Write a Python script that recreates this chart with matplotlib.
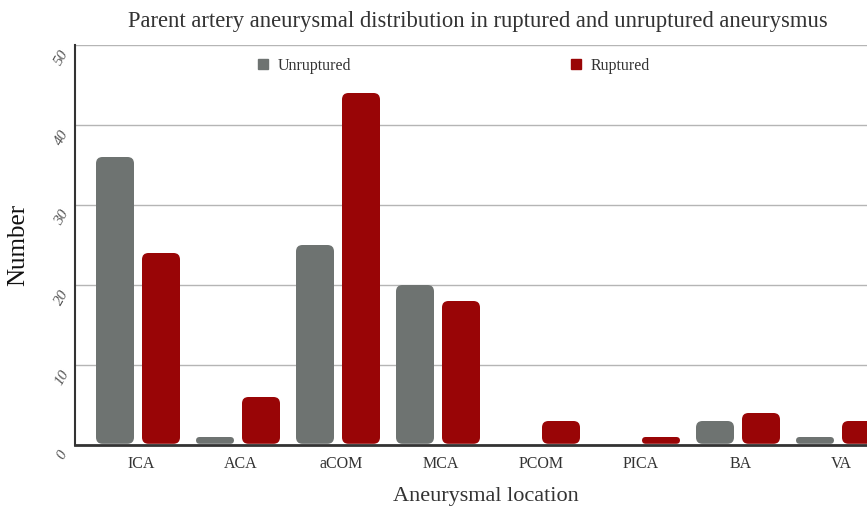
import matplotlib
matplotlib.use("Agg")
import matplotlib.pyplot as plt
from matplotlib.patches import FancyBboxPatch
from matplotlib.lines import Line2D
from matplotlib.transforms import ScaledTranslation
import numpy as np

categories = ["ICA", "ACA", "aCOM", "MCA", "PCOM", "PICA", "BA", "VA"]
unruptured = [36, 1, 25, 20, 0, 0, 3, 1]
ruptured = [24, 6, 44, 18, 3, 1, 4, 3]
yticks = [0, 10, 20, 30, 40, 50]

grey = "#6e7371"
red = "#990506"

plt.rcParams['font.family'] = ['Liberation Serif', 'DejaVu Serif']

fig = plt.figure(figsize=(8.67, 5.08), dpi=100)
ax = fig.add_axes([75/867, 1-445/508, 1-75/867, 400/508])

x = np.arange(len(categories))
w = 0.38
off = 0.23
b1 = ax.bar(x - off, unruptured, w, color=grey)
b2 = ax.bar(x + off, ruptured, w, color=red)

ax.set_xlim(-0.63, 7.29)
ax.set_ylim(0, 50)

# replace rectangles with rounded boxes
xpx = 792 / (7.29 + 0.63)  # px per x unit
ypx = 400 / 50
aspect = (1/ypx) / (1/xpx)
for bars in (b1, b2):
    for r in bars:
        h = r.get_height()
        if h <= 0:
            r.set_visible(False)
            continue
        rs = min(6.5/xpx, h*ypx/2.2/xpx)
        p = FancyBboxPatch((r.get_x(), 0.15), r.get_width(), h - 0.15,
                           boxstyle=f"round,pad=0,rounding_size={rs}",
                           mutation_aspect=aspect,
                           facecolor=r.get_facecolor(), edgecolor='none', zorder=3)
        ax.add_patch(p)
        r.set_visible(False)

ax.set_yticks(yticks)
ax.yaxis.grid(True, color="#b5b5b5", linewidth=1.0)
ax.set_axisbelow(True)
for s in ["top", "right"]:
    ax.spines[s].set_visible(False)
ax.spines["left"].set_color("#333333")
ax.spines["bottom"].set_color("#333333")
ax.spines["left"].set_linewidth(1.5)
ax.spines["bottom"].set_linewidth(2)
ax.tick_params(axis='both', length=0)
ax.tick_params(axis='y', pad=0, labelcolor="#555555", labelsize=11, labelrotation=60)
ax.set_xticks(x)
ax.set_xticklabels(categories, fontsize=11.5, color="#333333")
ax.tick_params(axis='x', pad=8)
for t in ax.get_yticklabels():
    t.set_fontstyle('italic')
    t.set_horizontalalignment('center')
    t.set_transform(t.get_transform() + ScaledTranslation(-13/100, -8/100, fig.dpi_scale_trans))
for t in ax.get_xticklabels():
    t.set_transform(t.get_transform() + ScaledTranslation(3/100, 0, fig.dpi_scale_trans))

ax.set_xlabel("Aneurysmal location", fontsize=16, color="#333333")
ax.xaxis.set_label_coords((486-75)/792, -(496-445)/400)
ax.xaxis.label.set_va("center")
ax.set_ylabel("Number", fontsize=18, color="#111111")
ax.yaxis.set_label_coords((18-75)/792, 0.5)
ax.yaxis.label.set_va("center")
fig.text(478/867, 1-22/508, "Parent artery aneurysmal distribution in ruptured and unruptured aneurysmus",
         ha="center", va="center", fontsize=16.3, color="#333333")

handles = [Line2D([], [], marker='s', linestyle='none', markersize=7, color=grey),
           Line2D([], [], marker='s', linestyle='none', markersize=7, color=red)]
leg = ax.legend(handles, ["Unruptured", "Ruptured"], ncol=2, frameon=False,
                loc="center left", bbox_to_anchor=((241-75)/792, 1-(66-45)/400),
                fontsize=11.5, columnspacing=13.6, handletextpad=0.4, handlelength=1.0,
                labelcolor="#333333")

fig.savefig("out.png", dpi=100)
